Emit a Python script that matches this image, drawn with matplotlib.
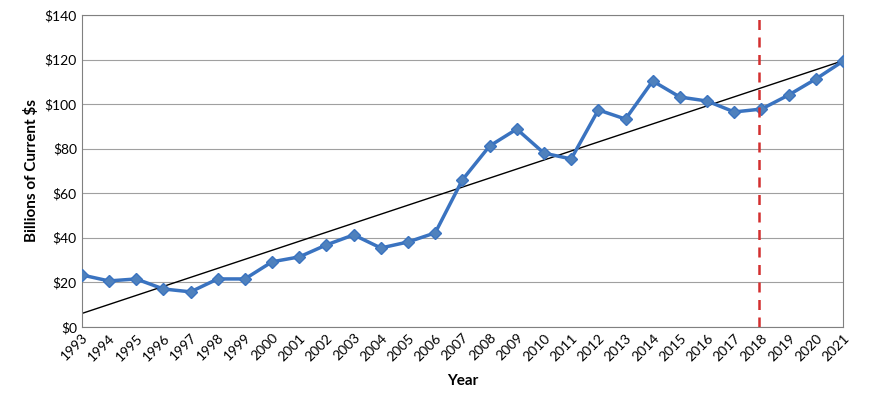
import matplotlib
matplotlib.use("Agg")
import matplotlib.pyplot as plt
import numpy as np

years = list(range(1993, 2022))
values = [23.3, 20.6, 21.5, 17.0, 15.7, 21.5, 21.5, 29.2, 31.4, 36.8, 41.3, 35.4, 38.1, 42.2,
          66.0, 81.2, 88.8, 78.0, 75.4, 97.4, 93.3, 110.4, 103.2, 101.4, 96.5, 97.8, 104.1, 111.3, 119.3]
yticks = [0, 20, 40, 60, 80, 100, 120, 140]
marker_year = 2017.9

plt.rcParams['font.family'] = 'Lato'
fig = plt.figure(figsize=(8.7, 4.08), dpi=100)
ax = fig.add_axes([0.094, 0.199, 0.875, 0.764])

x = np.array(years)
coef = np.polyfit(x, values, 1)
ax.plot(x, np.polyval(coef, x), color='black', lw=1, zorder=2)
ax.plot(x, values, color='#3A73C0', lw=2.5, marker='D', markersize=6,
        markerfacecolor='#4F81BD', markeredgecolor='#3A73C0', zorder=3)
ax.axvline(marker_year, color='#D32F2F', lw=1.8, ls=(0, (4, 3)), zorder=4)

ax.set_xlim(1993, 2021)
ax.set_ylim(0, 140)
ax.set_yticks(yticks)
ax.set_yticklabels([f"${v}" for v in yticks], fontsize=10)
ax.set_xticks(years)
ax.set_xticklabels([str(y) for y in years], rotation=45, ha='right', rotation_mode='anchor', fontsize=10)
ax.yaxis.grid(True, color='#A0A0A0', lw=0.8)
ax.set_axisbelow(True)
for s in ax.spines.values():
    s.set_color('#808080')
ax.tick_params(length=0)
ax.set_xlabel('Year', fontsize=11, fontweight='bold', labelpad=8)
ax.set_ylabel('Billions of Current $s', fontsize=11, fontweight='bold')
fig.savefig('out.png', dpi=100)
